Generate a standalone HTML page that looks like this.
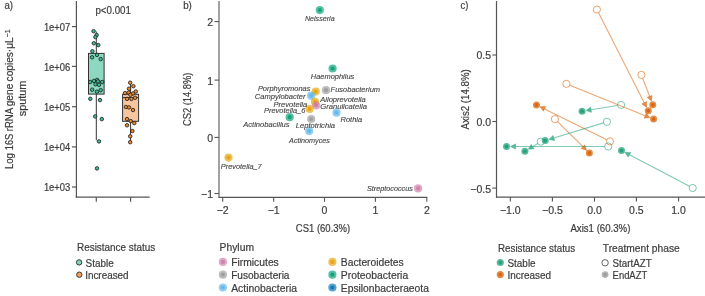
<!DOCTYPE html>
<html><head><meta charset="utf-8"><style>
html,body{margin:0;padding:0;background:#fff;width:705px;height:296px;overflow:hidden}
svg{display:block;font-family:"Liberation Sans", sans-serif;will-change:transform}
text{stroke:#3d3d3d;stroke-width:0.2px}
</style></head><body>
<svg width="705" height="296" viewBox="0 0 705 296">
<rect width="705" height="296" fill="#fff"/>
<text x="4.5" y="8.8" font-size="10" fill="#3d3d3d" textLength="8.6" lengthAdjust="spacingAndGlyphs">a)</text>
<line x1="76.4" y1="1" x2="76.4" y2="197.8" stroke="#555" stroke-width="1.2"/>
<line x1="75.8" y1="197.2" x2="149.7" y2="197.2" stroke="#555" stroke-width="1.2"/>
<line x1="72" y1="26.6" x2="76.4" y2="26.6" stroke="#555" stroke-width="1.2"/>
<text x="70.3" y="30.9" font-size="10" fill="#3d3d3d" text-anchor="end" textLength="26.4" lengthAdjust="spacingAndGlyphs">1e+07</text>
<line x1="72" y1="66.4" x2="76.4" y2="66.4" stroke="#555" stroke-width="1.2"/>
<text x="70.3" y="70.7" font-size="10" fill="#3d3d3d" text-anchor="end" textLength="26.4" lengthAdjust="spacingAndGlyphs">1e+06</text>
<line x1="72" y1="106.7" x2="76.4" y2="106.7" stroke="#555" stroke-width="1.2"/>
<text x="70.3" y="111.0" font-size="10" fill="#3d3d3d" text-anchor="end" textLength="26.4" lengthAdjust="spacingAndGlyphs">1e+05</text>
<line x1="72" y1="146.9" x2="76.4" y2="146.9" stroke="#555" stroke-width="1.2"/>
<text x="70.3" y="151.2" font-size="10" fill="#3d3d3d" text-anchor="end" textLength="26.4" lengthAdjust="spacingAndGlyphs">1e+04</text>
<line x1="72" y1="187.0" x2="76.4" y2="187.0" stroke="#555" stroke-width="1.2"/>
<text x="70.3" y="191.3" font-size="10" fill="#3d3d3d" text-anchor="end" textLength="26.4" lengthAdjust="spacingAndGlyphs">1e+03</text>
<line x1="96.3" y1="197.2" x2="96.3" y2="201.8" stroke="#555" stroke-width="1.2"/>
<line x1="130.6" y1="197.2" x2="130.6" y2="201.8" stroke="#555" stroke-width="1.2"/>
<text x="113.2" y="14.4" font-size="10" fill="#3d3d3d" text-anchor="middle" textLength="35.5" lengthAdjust="spacingAndGlyphs">p&lt;0.001</text>
<text x="0" y="0" font-size="10" fill="#3d3d3d" textLength="16.0" lengthAdjust="spacingAndGlyphs" transform="translate(12.9,169.1) rotate(-90)">Log</text>
<text x="0" y="0" font-size="10" fill="#3d3d3d" textLength="16.6" lengthAdjust="spacingAndGlyphs" transform="translate(12.9,150.3) rotate(-90)">16S</text>
<text x="0" y="0" font-size="10" fill="#3d3d3d" textLength="23.5" lengthAdjust="spacingAndGlyphs" transform="translate(12.9,131.3) rotate(-90)">rRNA</text>
<text x="0" y="0" font-size="10" fill="#3d3d3d" textLength="22.7" lengthAdjust="spacingAndGlyphs" transform="translate(12.9,106.3) rotate(-90)">gene</text>
<text x="0" y="0" font-size="10" fill="#3d3d3d" textLength="44.0" lengthAdjust="spacingAndGlyphs" transform="translate(12.9,81.4) rotate(-90)">copies·μL</text>
<text x="0" y="0" font-size="7.5" fill="#3d3d3d" textLength="7.8" lengthAdjust="spacingAndGlyphs" transform="translate(10.1,37.2) rotate(-90)">−1</text>
<text x="0" y="0" font-size="10" fill="#3d3d3d" textLength="35.6" lengthAdjust="spacingAndGlyphs" transform="translate(25.7,116.2) rotate(-90)">sputum</text>
<line x1="96.3" y1="31.5" x2="96.3" y2="53.5" stroke="#333" stroke-width="1"/>
<line x1="96.3" y1="94.1" x2="96.3" y2="140.3" stroke="#333" stroke-width="1"/>
<rect x="88.5" y="53.4" width="15.6" height="40.7" fill="#8dd8c0" stroke="#333" stroke-width="1"/>
<line x1="88.5" y1="81.4" x2="104.1" y2="81.4" stroke="#333" stroke-width="1"/>
<line x1="130.6" y1="82.5" x2="130.6" y2="94.3" stroke="#333" stroke-width="1"/>
<line x1="130.6" y1="121.3" x2="130.6" y2="142.2" stroke="#333" stroke-width="1"/>
<rect x="122.6" y="94.3" width="16" height="27" fill="#f6c6a0" stroke="#333" stroke-width="1"/>
<line x1="122.6" y1="97.6" x2="138.6" y2="97.6" stroke="#333" stroke-width="1"/>
<circle cx="93.6" cy="31.2" r="1.75" fill="#3dbd95" stroke="#222" stroke-width="0.85"/>
<circle cx="96.6" cy="35.0" r="1.75" fill="#3dbd95" stroke="#222" stroke-width="0.85"/>
<circle cx="95.4" cy="37.1" r="1.75" fill="#3dbd95" stroke="#222" stroke-width="0.85"/>
<circle cx="93.8" cy="43.3" r="1.75" fill="#3dbd95" stroke="#222" stroke-width="0.85"/>
<circle cx="98.3" cy="45.1" r="1.75" fill="#3dbd95" stroke="#222" stroke-width="0.85"/>
<circle cx="92.4" cy="51.3" r="1.75" fill="#3dbd95" stroke="#222" stroke-width="0.85"/>
<circle cx="97.0" cy="54.9" r="1.75" fill="#3dbd95" stroke="#222" stroke-width="0.85"/>
<circle cx="92.1" cy="57.3" r="1.75" fill="#3dbd95" stroke="#222" stroke-width="0.85"/>
<circle cx="100.7" cy="59.1" r="1.75" fill="#3dbd95" stroke="#222" stroke-width="0.85"/>
<circle cx="90.2" cy="82.0" r="1.75" fill="#3dbd95" stroke="#222" stroke-width="0.85"/>
<circle cx="94.0" cy="80.9" r="1.75" fill="#3dbd95" stroke="#222" stroke-width="0.85"/>
<circle cx="97.1" cy="79.9" r="1.75" fill="#3dbd95" stroke="#222" stroke-width="0.85"/>
<circle cx="98.0" cy="81.4" r="1.75" fill="#3dbd95" stroke="#222" stroke-width="0.85"/>
<circle cx="102.2" cy="82.0" r="1.75" fill="#3dbd95" stroke="#222" stroke-width="0.85"/>
<circle cx="95.5" cy="84.3" r="1.75" fill="#3dbd95" stroke="#222" stroke-width="0.85"/>
<circle cx="99.0" cy="84.8" r="1.75" fill="#3dbd95" stroke="#222" stroke-width="0.85"/>
<circle cx="92.2" cy="89.7" r="1.75" fill="#3dbd95" stroke="#222" stroke-width="0.85"/>
<circle cx="96.9" cy="91.7" r="1.75" fill="#3dbd95" stroke="#222" stroke-width="0.85"/>
<circle cx="100.7" cy="90.2" r="1.75" fill="#3dbd95" stroke="#222" stroke-width="0.85"/>
<circle cx="90.3" cy="98.8" r="1.75" fill="#3dbd95" stroke="#222" stroke-width="0.85"/>
<circle cx="100.0" cy="100.1" r="1.75" fill="#3dbd95" stroke="#222" stroke-width="0.85"/>
<circle cx="95.2" cy="116.4" r="1.75" fill="#3dbd95" stroke="#222" stroke-width="0.85"/>
<circle cx="101.8" cy="119.1" r="1.75" fill="#3dbd95" stroke="#222" stroke-width="0.85"/>
<circle cx="99.0" cy="141.4" r="1.75" fill="#3dbd95" stroke="#222" stroke-width="0.85"/>
<circle cx="97.0" cy="168.4" r="1.75" fill="#3dbd95" stroke="#222" stroke-width="0.85"/>
<circle cx="130.2" cy="82.7" r="1.75" fill="#f0892a" stroke="#222" stroke-width="0.85"/>
<circle cx="133.4" cy="86.2" r="1.75" fill="#f0892a" stroke="#222" stroke-width="0.85"/>
<circle cx="129.0" cy="88.7" r="1.75" fill="#f0892a" stroke="#222" stroke-width="0.85"/>
<circle cx="135.8" cy="91.5" r="1.75" fill="#f0892a" stroke="#222" stroke-width="0.85"/>
<circle cx="125.1" cy="93.1" r="1.75" fill="#f0892a" stroke="#222" stroke-width="0.85"/>
<circle cx="128.7" cy="92.5" r="1.75" fill="#f0892a" stroke="#222" stroke-width="0.85"/>
<circle cx="133.0" cy="93.5" r="1.75" fill="#f0892a" stroke="#222" stroke-width="0.85"/>
<circle cx="130.4" cy="94.8" r="1.75" fill="#f0892a" stroke="#222" stroke-width="0.85"/>
<circle cx="127.0" cy="98.9" r="1.75" fill="#f0892a" stroke="#222" stroke-width="0.85"/>
<circle cx="131.4" cy="98.9" r="1.75" fill="#f0892a" stroke="#222" stroke-width="0.85"/>
<circle cx="135.1" cy="97.8" r="1.75" fill="#f0892a" stroke="#222" stroke-width="0.85"/>
<circle cx="125.9" cy="107.0" r="1.75" fill="#f0892a" stroke="#222" stroke-width="0.85"/>
<circle cx="129.0" cy="107.4" r="1.75" fill="#f0892a" stroke="#222" stroke-width="0.85"/>
<circle cx="133.0" cy="110.0" r="1.75" fill="#f0892a" stroke="#222" stroke-width="0.85"/>
<circle cx="127.0" cy="119.1" r="1.75" fill="#f0892a" stroke="#222" stroke-width="0.85"/>
<circle cx="130.7" cy="121.1" r="1.75" fill="#f0892a" stroke="#222" stroke-width="0.85"/>
<circle cx="134.3" cy="123.1" r="1.75" fill="#f0892a" stroke="#222" stroke-width="0.85"/>
<circle cx="127.0" cy="125.3" r="1.75" fill="#f0892a" stroke="#222" stroke-width="0.85"/>
<circle cx="132.4" cy="131.0" r="1.75" fill="#f0892a" stroke="#222" stroke-width="0.85"/>
<circle cx="130.2" cy="136.3" r="1.75" fill="#f0892a" stroke="#222" stroke-width="0.85"/>
<circle cx="130.2" cy="142.2" r="1.75" fill="#f0892a" stroke="#222" stroke-width="0.85"/>
<text x="77.0" y="250.7" font-size="10" fill="#3d3d3d" textLength="78.3" lengthAdjust="spacingAndGlyphs">Resistance status</text>
<circle cx="79.1" cy="262.4" r="2.7" fill="#7fd5bb" stroke="#2a2a2a" stroke-width="0.9"/>
<text x="85.6" y="266.5" font-size="10" fill="#3d3d3d" textLength="28.1" lengthAdjust="spacingAndGlyphs">Stable</text>
<circle cx="79.3" cy="274.7" r="2.7" fill="#f5a060" stroke="#2a2a2a" stroke-width="0.9"/>
<text x="85.2" y="278.6" font-size="10" fill="#3d3d3d" textLength="43.4" lengthAdjust="spacingAndGlyphs">Increased</text>
<text x="183.2" y="8.9" font-size="10" fill="#3d3d3d" textLength="8.7" lengthAdjust="spacingAndGlyphs">b)</text>
<line x1="219.0" y1="1" x2="219.0" y2="197.0" stroke="#a2a2a2" stroke-width="2"/>
<line x1="218.4" y1="197.4" x2="427.3" y2="197.4" stroke="#555" stroke-width="1.2"/>
<line x1="214.5" y1="21.6" x2="218.9" y2="21.6" stroke="#555" stroke-width="1.1"/>
<text x="213.0" y="26.0" font-size="10.5" fill="#3d3d3d" text-anchor="end">2</text>
<line x1="214.5" y1="80.1" x2="218.9" y2="80.1" stroke="#555" stroke-width="1.1"/>
<text x="213.0" y="84.5" font-size="10.5" fill="#3d3d3d" text-anchor="end">1</text>
<line x1="214.5" y1="137.4" x2="218.9" y2="137.4" stroke="#555" stroke-width="1.1"/>
<text x="213.0" y="141.8" font-size="10.5" fill="#3d3d3d" text-anchor="end">0</text>
<line x1="214.5" y1="193.5" x2="218.9" y2="193.5" stroke="#555" stroke-width="1.1"/>
<text x="213.0" y="197.9" font-size="10.5" fill="#3d3d3d" text-anchor="end">−1</text>
<line x1="222.7" y1="197.4" x2="222.7" y2="201.8" stroke="#555" stroke-width="1.1"/>
<text x="222.7" y="213.8" font-size="10.5" fill="#3d3d3d" text-anchor="middle">−2</text>
<line x1="273.7" y1="197.4" x2="273.7" y2="201.8" stroke="#555" stroke-width="1.1"/>
<text x="273.7" y="213.8" font-size="10.5" fill="#3d3d3d" text-anchor="middle">−1</text>
<line x1="324.5" y1="197.4" x2="324.5" y2="201.8" stroke="#555" stroke-width="1.1"/>
<text x="324.5" y="213.8" font-size="10.5" fill="#3d3d3d" text-anchor="middle">0</text>
<line x1="375.4" y1="197.4" x2="375.4" y2="201.8" stroke="#555" stroke-width="1.1"/>
<text x="375.4" y="213.8" font-size="10.5" fill="#3d3d3d" text-anchor="middle">1</text>
<line x1="426.8" y1="197.4" x2="426.8" y2="201.8" stroke="#555" stroke-width="1.1"/>
<text x="426.8" y="213.8" font-size="10.5" fill="#3d3d3d" text-anchor="middle">2</text>
<text x="323.0" y="231.6" font-size="10" fill="#3d3d3d" text-anchor="middle" textLength="54.3" lengthAdjust="spacingAndGlyphs">CS1 (60.3%)</text>
<text x="0" y="0" font-size="10" fill="#3d3d3d" text-anchor="middle" textLength="53.3" lengthAdjust="spacingAndGlyphs" transform="translate(190.9,99.4) rotate(-90)">CS2 (14.8%)</text>
<circle cx="319.8" cy="10.1" r="4.1" fill="#009E73" stroke="none" stroke-width="1" fill-opacity="0.65"/>
<circle cx="319.8" cy="10.1" r="2.1" fill="#009E73" stroke="none" stroke-width="1" fill-opacity="0.8"/>
<circle cx="332.6" cy="68.5" r="4.1" fill="#009E73" stroke="none" stroke-width="1" fill-opacity="0.65"/>
<circle cx="332.6" cy="68.5" r="2.1" fill="#009E73" stroke="none" stroke-width="1" fill-opacity="0.8"/>
<circle cx="326.0" cy="90.2" r="4.1" fill="#999999" stroke="none" stroke-width="1" fill-opacity="0.65"/>
<circle cx="326.0" cy="90.2" r="2.1" fill="#999999" stroke="none" stroke-width="1" fill-opacity="0.8"/>
<circle cx="315.7" cy="91.6" r="4.1" fill="#E69F00" stroke="none" stroke-width="1" fill-opacity="0.65"/>
<circle cx="315.7" cy="91.6" r="2.1" fill="#E69F00" stroke="none" stroke-width="1" fill-opacity="0.8"/>
<circle cx="311.1" cy="95.7" r="4.1" fill="#56B4E9" stroke="none" stroke-width="1" fill-opacity="0.65"/>
<circle cx="311.1" cy="95.7" r="2.1" fill="#56B4E9" stroke="none" stroke-width="1" fill-opacity="0.8"/>
<circle cx="315.0" cy="101.8" r="4.1" fill="#E69F00" stroke="none" stroke-width="1" fill-opacity="0.65"/>
<circle cx="315.0" cy="101.8" r="2.1" fill="#E69F00" stroke="none" stroke-width="1" fill-opacity="0.8"/>
<circle cx="316.2" cy="105.5" r="4.1" fill="#CC79A7" stroke="none" stroke-width="1" fill-opacity="0.65"/>
<circle cx="316.2" cy="105.5" r="2.1" fill="#CC79A7" stroke="none" stroke-width="1" fill-opacity="0.8"/>
<circle cx="309.6" cy="108.9" r="4.1" fill="#E69F00" stroke="none" stroke-width="1" fill-opacity="0.65"/>
<circle cx="309.6" cy="108.9" r="2.1" fill="#E69F00" stroke="none" stroke-width="1" fill-opacity="0.8"/>
<circle cx="289.7" cy="117.2" r="4.1" fill="#009E73" stroke="none" stroke-width="1" fill-opacity="0.65"/>
<circle cx="289.7" cy="117.2" r="2.1" fill="#009E73" stroke="none" stroke-width="1" fill-opacity="0.8"/>
<circle cx="311.2" cy="119.0" r="4.1" fill="#999999" stroke="none" stroke-width="1" fill-opacity="0.65"/>
<circle cx="311.2" cy="119.0" r="2.1" fill="#999999" stroke="none" stroke-width="1" fill-opacity="0.8"/>
<circle cx="336.5" cy="112.7" r="4.1" fill="#56B4E9" stroke="none" stroke-width="1" fill-opacity="0.65"/>
<circle cx="336.5" cy="112.7" r="2.1" fill="#56B4E9" stroke="none" stroke-width="1" fill-opacity="0.8"/>
<circle cx="309.2" cy="131.1" r="4.1" fill="#56B4E9" stroke="none" stroke-width="1" fill-opacity="0.65"/>
<circle cx="309.2" cy="131.1" r="2.1" fill="#56B4E9" stroke="none" stroke-width="1" fill-opacity="0.8"/>
<circle cx="228.5" cy="157.6" r="4.1" fill="#E69F00" stroke="none" stroke-width="1" fill-opacity="0.65"/>
<circle cx="228.5" cy="157.6" r="2.1" fill="#E69F00" stroke="none" stroke-width="1" fill-opacity="0.8"/>
<circle cx="418.1" cy="188.4" r="4.1" fill="#CC79A7" stroke="none" stroke-width="1" fill-opacity="0.65"/>
<circle cx="418.1" cy="188.4" r="2.1" fill="#CC79A7" stroke="none" stroke-width="1" fill-opacity="0.8"/>
<text x="304.9" y="20.9" font-size="7.6" fill="#444" textLength="29.8" lengthAdjust="spacingAndGlyphs" font-style="italic" style="stroke:#444;stroke-width:0.12px">Neisseria</text>
<text x="310.8" y="79.0" font-size="7.6" fill="#444" textLength="43.5" lengthAdjust="spacingAndGlyphs" font-style="italic" style="stroke:#444;stroke-width:0.12px">Haemophilus</text>
<text x="257.9" y="91.0" font-size="7.6" fill="#444" textLength="52.5" lengthAdjust="spacingAndGlyphs" font-style="italic" style="stroke:#444;stroke-width:0.12px">Porphyromonas</text>
<text x="254.79999999999998" y="98.8" font-size="7.6" fill="#444" textLength="50.8" lengthAdjust="spacingAndGlyphs" font-style="italic" style="stroke:#444;stroke-width:0.12px">Campylobacter</text>
<text x="273.5" y="106.6" font-size="7.6" fill="#444" textLength="33.8" lengthAdjust="spacingAndGlyphs" font-style="italic" style="stroke:#444;stroke-width:0.12px">Prevotella</text>
<text x="264.0" y="113.3" font-size="7.6" fill="#444" textLength="41.4" lengthAdjust="spacingAndGlyphs" font-style="italic" style="stroke:#444;stroke-width:0.12px">Prevotella_6</text>
<text x="330.59999999999997" y="92.1" font-size="7.6" fill="#444" textLength="49.5" lengthAdjust="spacingAndGlyphs" font-style="italic" style="stroke:#444;stroke-width:0.12px">Fusobacterium</text>
<text x="320.2" y="101.6" font-size="7.6" fill="#444" textLength="45.6" lengthAdjust="spacingAndGlyphs" font-style="italic" style="stroke:#444;stroke-width:0.12px">Alloprevotella</text>
<text x="320.2" y="108.6" font-size="7.6" fill="#444" textLength="46.7" lengthAdjust="spacingAndGlyphs" font-style="italic" style="stroke:#444;stroke-width:0.12px">Granulicatella</text>
<text x="340.5" y="121.9" font-size="7.6" fill="#444" textLength="21.7" lengthAdjust="spacingAndGlyphs" font-style="italic" style="stroke:#444;stroke-width:0.12px">Rothia</text>
<text x="243.2" y="127.0" font-size="7.6" fill="#444" textLength="46.4" lengthAdjust="spacingAndGlyphs" font-style="italic" style="stroke:#444;stroke-width:0.12px">Actinobacillus</text>
<text x="295.7" y="127.7" font-size="7.6" fill="#444" textLength="39.4" lengthAdjust="spacingAndGlyphs" font-style="italic" style="stroke:#444;stroke-width:0.12px">Leptotrichia</text>
<text x="289.09999999999997" y="142.9" font-size="7.6" fill="#444" textLength="40.8" lengthAdjust="spacingAndGlyphs" font-style="italic" style="stroke:#444;stroke-width:0.12px">Actinomyces</text>
<text x="220.79999999999998" y="168.8" font-size="7.6" fill="#444" textLength="40.9" lengthAdjust="spacingAndGlyphs" font-style="italic" style="stroke:#444;stroke-width:0.12px">Prevotella_7</text>
<text x="366.9" y="191.3" font-size="7.6" fill="#444" textLength="46.0" lengthAdjust="spacingAndGlyphs" font-style="italic" style="stroke:#444;stroke-width:0.12px">Streptococcus</text>
<text x="219.6" y="250.8" font-size="10" fill="#3d3d3d" textLength="34.4" lengthAdjust="spacingAndGlyphs">Phylum</text>
<circle cx="222.9" cy="261.9" r="4.1" fill="#CC79A7" stroke="none" stroke-width="1" fill-opacity="0.65"/>
<circle cx="222.9" cy="261.9" r="2.1" fill="#CC79A7" stroke="none" stroke-width="1" fill-opacity="0.8"/>
<text x="231.2" y="266.0" font-size="10" fill="#3d3d3d" textLength="47.6" lengthAdjust="spacingAndGlyphs">Firmicutes</text>
<circle cx="222.9" cy="274.7" r="4.1" fill="#999999" stroke="none" stroke-width="1" fill-opacity="0.65"/>
<circle cx="222.9" cy="274.7" r="2.1" fill="#999999" stroke="none" stroke-width="1" fill-opacity="0.8"/>
<text x="231.2" y="278.8" font-size="10" fill="#3d3d3d" textLength="58.3" lengthAdjust="spacingAndGlyphs">Fusobacteria</text>
<circle cx="222.9" cy="287.5" r="4.1" fill="#56B4E9" stroke="none" stroke-width="1" fill-opacity="0.65"/>
<circle cx="222.9" cy="287.5" r="2.1" fill="#56B4E9" stroke="none" stroke-width="1" fill-opacity="0.8"/>
<text x="231.2" y="291.6" font-size="10" fill="#3d3d3d" textLength="65.8" lengthAdjust="spacingAndGlyphs">Actinobacteria</text>
<circle cx="332.4" cy="261.9" r="4.1" fill="#E69F00" stroke="none" stroke-width="1" fill-opacity="0.65"/>
<circle cx="332.4" cy="261.9" r="2.1" fill="#E69F00" stroke="none" stroke-width="1" fill-opacity="0.8"/>
<text x="340.8" y="266.0" font-size="10" fill="#3d3d3d" textLength="62.9" lengthAdjust="spacingAndGlyphs">Bacteroidetes</text>
<circle cx="332.4" cy="274.7" r="4.1" fill="#009E73" stroke="none" stroke-width="1" fill-opacity="0.65"/>
<circle cx="332.4" cy="274.7" r="2.1" fill="#009E73" stroke="none" stroke-width="1" fill-opacity="0.8"/>
<text x="340.8" y="278.8" font-size="10" fill="#3d3d3d" textLength="67.4" lengthAdjust="spacingAndGlyphs">Proteobacteria</text>
<circle cx="332.4" cy="287.5" r="4.1" fill="#0072B2" stroke="none" stroke-width="1" fill-opacity="0.65"/>
<circle cx="332.4" cy="287.5" r="2.1" fill="#0072B2" stroke="none" stroke-width="1" fill-opacity="0.8"/>
<text x="340.8" y="291.6" font-size="10" fill="#3d3d3d" textLength="88.1" lengthAdjust="spacingAndGlyphs">Epsilonbacteraeota</text>
<text x="460.6" y="8.9" font-size="10" fill="#3d3d3d" textLength="7.8" lengthAdjust="spacingAndGlyphs">c)</text>
<line x1="496.5" y1="1" x2="496.5" y2="197.6" stroke="#555" stroke-width="1.2"/>
<line x1="496.0" y1="197.1" x2="705" y2="197.1" stroke="#555" stroke-width="1.2"/>
<line x1="492.3" y1="55.0" x2="496.5" y2="55.0" stroke="#555" stroke-width="1.1"/>
<text x="491.0" y="59.4" font-size="10.5" fill="#3d3d3d" text-anchor="end">0.5</text>
<line x1="492.3" y1="121.5" x2="496.5" y2="121.5" stroke="#555" stroke-width="1.1"/>
<text x="491.0" y="125.9" font-size="10.5" fill="#3d3d3d" text-anchor="end">0.0</text>
<line x1="492.3" y1="188.1" x2="496.5" y2="188.1" stroke="#555" stroke-width="1.1"/>
<text x="491.0" y="192.5" font-size="10.5" fill="#3d3d3d" text-anchor="end">−0.5</text>
<line x1="510.3" y1="197.1" x2="510.3" y2="201.6" stroke="#555" stroke-width="1.1"/>
<text x="510.3" y="214.3" font-size="10.5" fill="#3d3d3d" text-anchor="middle">−1.0</text>
<line x1="552.4" y1="197.1" x2="552.4" y2="201.6" stroke="#555" stroke-width="1.1"/>
<text x="552.4" y="214.3" font-size="10.5" fill="#3d3d3d" text-anchor="middle">−0.5</text>
<line x1="594.5" y1="197.1" x2="594.5" y2="201.6" stroke="#555" stroke-width="1.1"/>
<text x="594.5" y="214.3" font-size="10.5" fill="#3d3d3d" text-anchor="middle">0.0</text>
<line x1="636.4" y1="197.1" x2="636.4" y2="201.6" stroke="#555" stroke-width="1.1"/>
<text x="636.4" y="214.3" font-size="10.5" fill="#3d3d3d" text-anchor="middle">0.5</text>
<line x1="678.6" y1="197.1" x2="678.6" y2="201.6" stroke="#555" stroke-width="1.1"/>
<text x="678.6" y="214.3" font-size="10.5" fill="#3d3d3d" text-anchor="middle">1.0</text>
<text x="600.4" y="231.5" font-size="10" fill="#3d3d3d" text-anchor="middle" textLength="60.0" lengthAdjust="spacingAndGlyphs">Axis1 (60.3%)</text>
<text x="0" y="0" font-size="10" fill="#3d3d3d" text-anchor="middle" textLength="60.3" lengthAdjust="spacingAndGlyphs" transform="translate(468.6,99.4) rotate(-90)">Axis2 (14.8%)</text>
<line x1="598.53" y1="12.71" x2="644.23" y2="102.77" stroke="#D95F02" stroke-width="1.1" stroke-opacity="0.55"/>
<polygon points="646.49,107.23 641.91,103.95 646.55,101.60" fill="#D95F02" fill-opacity="0.72" stroke="#D95F02" stroke-opacity="0.72" stroke-width="0.6"/>
<line x1="642.68" y1="78.26" x2="649.59" y2="96.39" stroke="#D95F02" stroke-width="1.1" stroke-opacity="0.55"/>
<polygon points="651.37,101.06 647.16,97.32 652.02,95.46" fill="#D95F02" fill-opacity="0.72" stroke="#D95F02" stroke-opacity="0.72" stroke-width="0.6"/>
<line x1="569.74" y1="85.15" x2="645.26" y2="115.72" stroke="#D95F02" stroke-width="1.1" stroke-opacity="0.55"/>
<polygon points="649.89,117.60 644.28,118.13 646.23,113.31" fill="#D95F02" fill-opacity="0.72" stroke="#D95F02" stroke-opacity="0.72" stroke-width="0.6"/>
<line x1="606.78" y1="139.80" x2="544.56" y2="108.90" stroke="#D95F02" stroke-width="1.1" stroke-opacity="0.55"/>
<polygon points="540.08,106.68 545.72,106.57 543.40,111.23" fill="#D95F02" fill-opacity="0.72" stroke="#D95F02" stroke-opacity="0.72" stroke-width="0.6"/>
<line x1="557.47" y1="121.62" x2="582.98" y2="146.69" stroke="#D95F02" stroke-width="1.1" stroke-opacity="0.55"/>
<polygon points="586.55,150.20 581.16,148.55 584.80,144.84" fill="#D95F02" fill-opacity="0.72" stroke="#D95F02" stroke-opacity="0.72" stroke-width="0.6"/>
<line x1="617.55" y1="105.47" x2="590.98" y2="109.76" stroke="#1B9E77" stroke-width="1.1" stroke-opacity="0.55"/>
<polygon points="586.05,110.56 590.57,107.20 591.40,112.33" fill="#1B9E77" fill-opacity="0.72" stroke="#1B9E77" stroke-opacity="0.72" stroke-width="0.6"/>
<line x1="603.46" y1="122.85" x2="553.81" y2="137.98" stroke="#1B9E77" stroke-width="1.1" stroke-opacity="0.55"/>
<polygon points="549.03,139.43 553.05,135.49 554.57,140.46" fill="#1B9E77" fill-opacity="0.72" stroke="#1B9E77" stroke-opacity="0.72" stroke-width="0.6"/>
<line x1="537.73" y1="143.47" x2="532.58" y2="146.61" stroke="#1B9E77" stroke-width="1.1" stroke-opacity="0.55"/>
<polygon points="528.31,149.22 531.23,144.39 533.94,148.83" fill="#1B9E77" fill-opacity="0.72" stroke="#1B9E77" stroke-opacity="0.72" stroke-width="0.6"/>
<line x1="604.60" y1="146.50" x2="515.50" y2="146.50" stroke="#1B9E77" stroke-width="1.1" stroke-opacity="0.55"/>
<polygon points="510.50,146.50 515.50,143.90 515.50,149.10" fill="#1B9E77" fill-opacity="0.72" stroke="#1B9E77" stroke-opacity="0.72" stroke-width="0.6"/>
<line x1="689.51" y1="186.33" x2="629.47" y2="154.79" stroke="#1B9E77" stroke-width="1.1" stroke-opacity="0.55"/>
<polygon points="625.04,152.46 630.68,152.48 628.26,157.09" fill="#1B9E77" fill-opacity="0.72" stroke="#1B9E77" stroke-opacity="0.72" stroke-width="0.6"/>
<circle cx="596.9" cy="9.5" r="3.6" fill="none" stroke="#D95F02" stroke-width="0.95" stroke-opacity="0.6"/>
<circle cx="641.4" cy="74.9" r="3.6" fill="none" stroke="#D95F02" stroke-width="0.95" stroke-opacity="0.6"/>
<circle cx="566.4" cy="83.8" r="3.6" fill="none" stroke="#D95F02" stroke-width="0.95" stroke-opacity="0.6"/>
<circle cx="610.0" cy="141.4" r="3.6" fill="none" stroke="#D95F02" stroke-width="0.95" stroke-opacity="0.6"/>
<circle cx="554.9" cy="119.1" r="3.6" fill="none" stroke="#D95F02" stroke-width="0.95" stroke-opacity="0.6"/>
<circle cx="621.1" cy="104.9" r="3.6" fill="none" stroke="#1B9E77" stroke-width="0.95" stroke-opacity="0.6"/>
<circle cx="606.9" cy="121.8" r="3.6" fill="none" stroke="#1B9E77" stroke-width="0.95" stroke-opacity="0.6"/>
<circle cx="540.8" cy="141.6" r="3.6" fill="none" stroke="#1B9E77" stroke-width="0.95" stroke-opacity="0.6"/>
<circle cx="608.2" cy="146.5" r="3.6" fill="none" stroke="#1B9E77" stroke-width="0.95" stroke-opacity="0.6"/>
<circle cx="692.7" cy="188.0" r="3.6" fill="none" stroke="#1B9E77" stroke-width="0.95" stroke-opacity="0.6"/>
<circle cx="648.3" cy="110.8" r="3.5" fill="#D95F02" stroke="none" stroke-width="1" fill-opacity="0.72"/>
<circle cx="648.3" cy="110.8" r="1.9" fill="#D95F02" stroke="none" stroke-width="1" fill-opacity="0.85"/>
<circle cx="652.8" cy="104.8" r="3.5" fill="#D95F02" stroke="none" stroke-width="1" fill-opacity="0.72"/>
<circle cx="652.8" cy="104.8" r="1.9" fill="#D95F02" stroke="none" stroke-width="1" fill-opacity="0.85"/>
<circle cx="653.6" cy="119.1" r="3.5" fill="#D95F02" stroke="none" stroke-width="1" fill-opacity="0.72"/>
<circle cx="653.6" cy="119.1" r="1.9" fill="#D95F02" stroke="none" stroke-width="1" fill-opacity="0.85"/>
<circle cx="536.5" cy="104.9" r="3.5" fill="#D95F02" stroke="none" stroke-width="1" fill-opacity="0.72"/>
<circle cx="536.5" cy="104.9" r="1.9" fill="#D95F02" stroke="none" stroke-width="1" fill-opacity="0.85"/>
<circle cx="589.4" cy="153.0" r="3.5" fill="#D95F02" stroke="none" stroke-width="1" fill-opacity="0.72"/>
<circle cx="589.4" cy="153.0" r="1.9" fill="#D95F02" stroke="none" stroke-width="1" fill-opacity="0.85"/>
<circle cx="582.1" cy="111.2" r="3.5" fill="#1B9E77" stroke="none" stroke-width="1" fill-opacity="0.72"/>
<circle cx="582.1" cy="111.2" r="1.9" fill="#1B9E77" stroke="none" stroke-width="1" fill-opacity="0.85"/>
<circle cx="545.2" cy="140.6" r="3.5" fill="#1B9E77" stroke="none" stroke-width="1" fill-opacity="0.72"/>
<circle cx="545.2" cy="140.6" r="1.9" fill="#1B9E77" stroke="none" stroke-width="1" fill-opacity="0.85"/>
<circle cx="524.9" cy="151.3" r="3.5" fill="#1B9E77" stroke="none" stroke-width="1" fill-opacity="0.72"/>
<circle cx="524.9" cy="151.3" r="1.9" fill="#1B9E77" stroke="none" stroke-width="1" fill-opacity="0.85"/>
<circle cx="506.5" cy="146.5" r="3.5" fill="#1B9E77" stroke="none" stroke-width="1" fill-opacity="0.72"/>
<circle cx="506.5" cy="146.5" r="1.9" fill="#1B9E77" stroke="none" stroke-width="1" fill-opacity="0.85"/>
<circle cx="621.5" cy="150.6" r="3.5" fill="#1B9E77" stroke="none" stroke-width="1" fill-opacity="0.72"/>
<circle cx="621.5" cy="150.6" r="1.9" fill="#1B9E77" stroke="none" stroke-width="1" fill-opacity="0.85"/>
<text x="498.0" y="252.1" font-size="10" fill="#3d3d3d" textLength="77.2" lengthAdjust="spacingAndGlyphs">Resistance status</text>
<circle cx="500.3" cy="262.5" r="3.6" fill="#1B9E77" stroke="none" stroke-width="1" fill-opacity="0.72"/>
<circle cx="500.3" cy="262.5" r="1.9" fill="#1B9E77" stroke="none" stroke-width="1" fill-opacity="0.85"/>
<text x="507.5" y="266.5" font-size="10" fill="#3d3d3d" textLength="28.1" lengthAdjust="spacingAndGlyphs">Stable</text>
<circle cx="500.3" cy="274.6" r="3.6" fill="#D95F02" stroke="none" stroke-width="1" fill-opacity="0.72"/>
<circle cx="500.3" cy="274.6" r="1.9" fill="#D95F02" stroke="none" stroke-width="1" fill-opacity="0.85"/>
<text x="507.5" y="278.7" font-size="10" fill="#3d3d3d" textLength="43.6" lengthAdjust="spacingAndGlyphs">Increased</text>
<text x="602.8" y="252.1" font-size="10" fill="#3d3d3d" textLength="76.9" lengthAdjust="spacingAndGlyphs">Treatment phase</text>
<circle cx="605.1" cy="262.8" r="3.2" fill="white" stroke="#555" stroke-width="0.9"/>
<text x="612.6" y="266.5" font-size="10" fill="#3d3d3d" textLength="39.1" lengthAdjust="spacingAndGlyphs">StartAZT</text>
<circle cx="605.1" cy="274.6" r="3.4" fill="#999" stroke="none" stroke-width="1" fill-opacity="0.72"/>
<circle cx="605.1" cy="274.6" r="1.8" fill="#999" stroke="none" stroke-width="1" fill-opacity="0.85"/>
<text x="612.6" y="278.7" font-size="10" fill="#3d3d3d" textLength="34.6" lengthAdjust="spacingAndGlyphs">EndAZT</text>
</svg></body></html>
